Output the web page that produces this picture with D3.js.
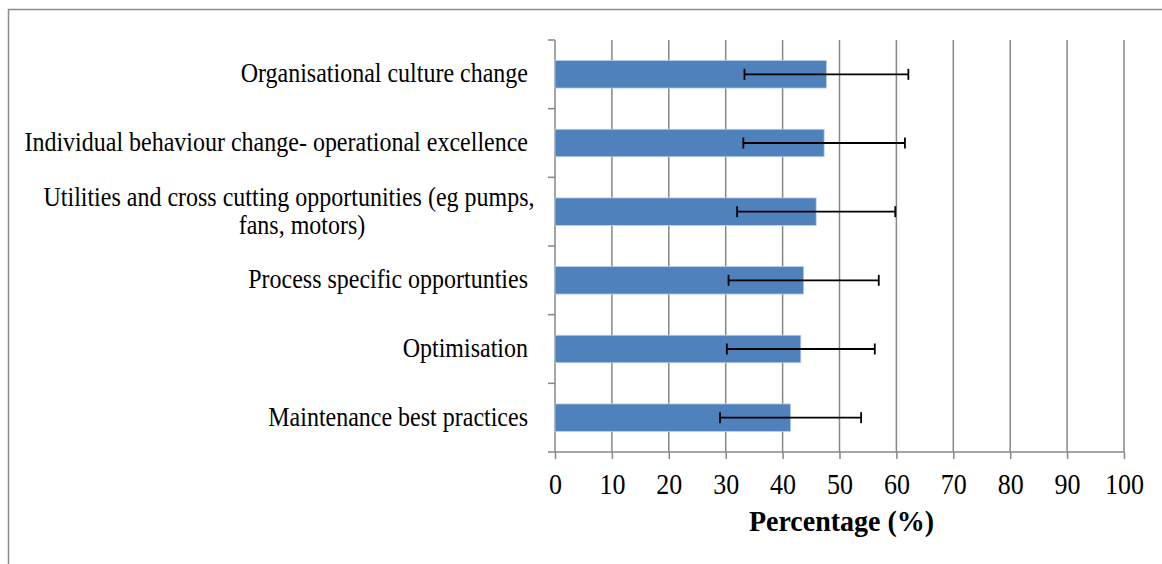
<!DOCTYPE html>
<html>
<head>
<meta charset="utf-8">
<script src="https://cdn.jsdelivr.net/npm/d3@7"></script>
<style>
  body { margin: 0; background: #fff; }
  text { font-family: "Liberation Serif", "Times New Roman", serif; fill: #000; }
</style>
</head>
<body>
<div id="chart"></div>
<script>
var svgWidth = 1162;
var svgHeight = 564;

// categories, top to bottom
var categories = [
    ["Organisational culture change"],
    ["Individual behaviour change- operational excellence"],
    ["Utilities and cross cutting opportunities (eg pumps,", "fans, motors)"],
    ["Process specific opportunties"],
    ["Optimisation"],
    ["Maintenance best practices"]
];
var values = [47.7, 47.3, 45.9, 43.7, 43.2, 41.4];
var errors = [14.4, 14.2, 13.9, 13.2, 13.0, 12.4];
var xTicks = [0, 10, 20, 30, 40, 50, 60, 70, 80, 90, 100];

var margin = { top: 40, right: 38, bottom: 112, left: 555 };
var width = svgWidth - margin.left - margin.right;
var height = svgHeight - margin.top - margin.bottom;

var svg = d3.select("#chart")
    .append("svg")
    .attr("width", svgWidth)
    .attr("height", svgHeight);

// outer chart border (left & top visible)
svg.append("path")
    .attr("d", `M8.5,${svgHeight + 2} V9.5 H${svgWidth + 2}`)
    .attr("fill", "none")
    .attr("stroke", "#8c8c8c")
    .attr("stroke-width", 1.5);

var chartGroup = svg.append("g")
    .attr("transform", `translate(${margin.left}, ${margin.top})`);

var idx = d3.range(categories.length);

var xScale = d3.scaleLinear()
    .domain([0, 100])
    .range([0, width]);

var yScale = d3.scaleBand()
    .domain(idx)
    .range([0, height])
    .paddingInner(0.6)
    .paddingOuter(0.3);

var yEdge = d3.scaleLinear()
    .domain([0, categories.length])
    .range([0, height]);

// vertical gridlines
chartGroup.selectAll("line.grid")
    .data(xTicks.slice(1))
    .enter()
    .append("line")
    .attr("class", "grid")
    .attr("x1", d => xScale(d))
    .attr("x2", d => xScale(d))
    .attr("y1", 0)
    .attr("y2", height)
    .attr("stroke", "#878787")
    .attr("stroke-width", 1.5);

// x axis
var bottomAxis = d3.axisBottom(xScale)
    .tickValues(xTicks)
    .tickSize(7)
    .tickFormat(d3.format("d"));

var xAxis = chartGroup.append("g")
    .attr("transform", `translate(0, ${height})`)
    .call(bottomAxis);
xAxis.select(".domain").attr("stroke", "#878787").attr("stroke-width", 1.5)
    .attr("d", `M-7,0H${width}`);
xAxis.selectAll(".tick line").attr("stroke", "#878787").attr("stroke-width", 1.5);
xAxis.selectAll(".tick text")
    .attr("y", 0)
    .attr("dy", 0)
    .attr("transform", "translate(0,42) scale(1,1.1)")
    .style("font-size", "26px")
    .style("font-family", "Liberation Serif, Times New Roman, serif");

// y axis line with ticks at category boundaries
chartGroup.append("line")
    .attr("x1", 0).attr("x2", 0)
    .attr("y1", 0).attr("y2", height)
    .attr("stroke", "#878787")
    .attr("stroke-width", 1.5);

chartGroup.selectAll("line.ytick")
    .data(d3.range(categories.length))
    .enter()
    .append("line")
    .attr("class", "ytick")
    .attr("x1", -7).attr("x2", 0)
    .attr("y1", d => yEdge(d))
    .attr("y2", d => yEdge(d))
    .attr("stroke", "#878787")
    .attr("stroke-width", 1.5);

// bars
chartGroup.selectAll("rect.bar")
    .data(idx)
    .enter()
    .append("rect")
    .attr("class", "bar")
    .attr("x", 0)
    .attr("y", d => yScale(d))
    .attr("width", d => xScale(values[d]))
    .attr("height", yScale.bandwidth())
    .attr("fill", "#4f81bd")
    .attr("stroke", "#b9cde5")
    .attr("stroke-width", 0.8);

// error bars
var errGroup = chartGroup.selectAll("g.err")
    .data(idx)
    .enter()
    .append("g")
    .attr("class", "err")
    .attr("transform", d => `translate(0, ${yScale(d) + yScale.bandwidth() / 2})`);

errGroup.append("line")
    .attr("x1", d => xScale(values[d] - errors[d]))
    .attr("x2", d => xScale(values[d] + errors[d]))
    .attr("stroke", "#000")
    .attr("stroke-width", 1.8);

errGroup.append("line")
    .attr("x1", d => xScale(values[d] - errors[d]))
    .attr("x2", d => xScale(values[d] - errors[d]))
    .attr("y1", -5.5).attr("y2", 5.5)
    .attr("stroke", "#000")
    .attr("stroke-width", 1.8);

errGroup.append("line")
    .attr("x1", d => xScale(values[d] + errors[d]))
    .attr("x2", d => xScale(values[d] + errors[d]))
    .attr("y1", -5.5).attr("y2", 5.5)
    .attr("stroke", "#000")
    .attr("stroke-width", 1.8);

// category labels
var labelGroup = chartGroup.selectAll("g.cat")
    .data(idx)
    .enter()
    .append("g")
    .attr("class", "cat")
    .attr("transform", d => `translate(-27, ${yScale(d) + yScale.bandwidth() / 2})`);

labelGroup.each(function(d) {
    var lines = categories[d];
    var g = d3.select(this);
    lines.forEach(function(line, i) {
        var yOff = (i - (lines.length - 1) / 2) * 28 + 8;
        var multi = lines.length > 1;
        g.append("text")
            .attr("text-anchor", multi ? "middle" : "end")
            .attr("transform", `translate(${multi ? (i === 0 ? -239 : -226) : 0}, ${yOff}) scale(1,1.12)`)
            .style("font-size", "24px")
            .text(line);
    });
});

// x axis title
chartGroup.append("text")
    .attr("transform", `translate(${width / 2 + 2}, ${height + 79}) scale(1,1.03)`)
    .attr("text-anchor", "middle")
    .style("font-size", "28px")
    .style("font-weight", "bold")
    .text("Percentage (%)");
</script>
</body>
</html>
